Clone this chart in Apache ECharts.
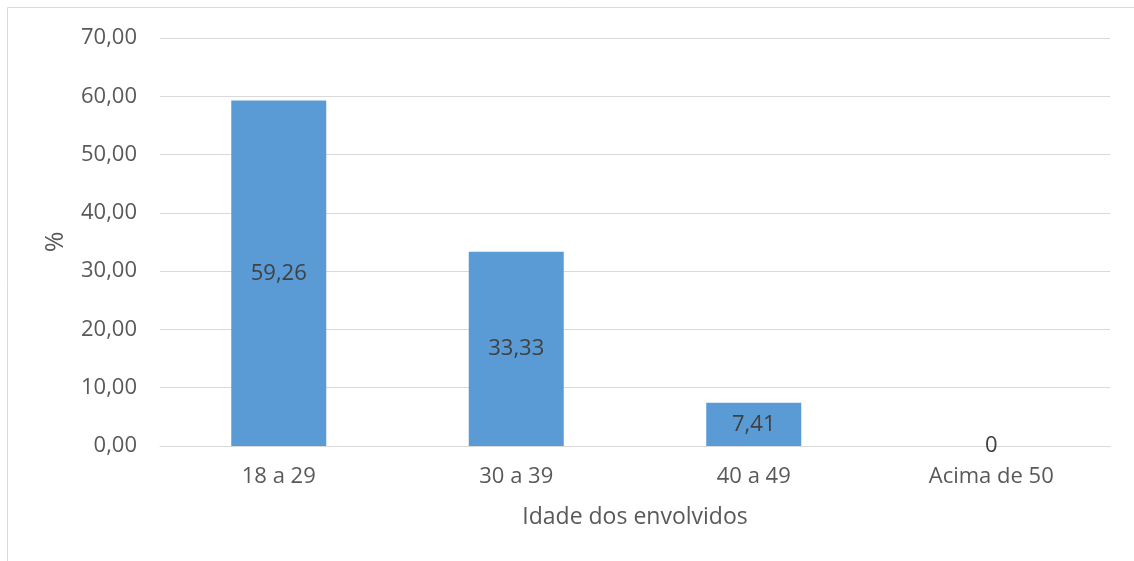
<!DOCTYPE html>
<html><head><meta charset="utf-8">
<script src="https://cdn.jsdelivr.net/npm/echarts@6/dist/echarts.min.js"></script>
<style>html,body{margin:0;padding:0;background:#fff}#c{width:1134px;height:561px}</style>
</head><body><div id="c"></div>
<script>
const categories = ['18 a 29', '30 a 39', '40 a 49', 'Acima de 50'];
const values = [59.26, 33.33, 7.41, 0];
const valueLabels = ['59,26', '33,33', '7,41', '0'];
const yTicks = [0, 10, 20, 30, 40, 50, 60, 70];

const chart = echarts.init(document.getElementById('c'));
const font = '"Open Sans", "Noto Sans", sans-serif';
chart.setOption({
  animation: false,
  textStyle: { fontFamily: font },
  graphic: [{ type: 'rect', shape: { x: 7.5, y: 7.5, width: 1200, height: 700 }, style: { fill: 'none', stroke: '#d9d9d9', lineWidth: 1 } }],
  grid: { left: 160, right: 24, top: 38, bottom: 115, containLabel: false },
  xAxis: {
    type: 'category', data: categories,
    name: 'Idade dos envolvidos', nameLocation: 'middle', nameGap: 60,
    nameTextStyle: { color: '#595959', fontSize: 23, fontFamily: font },
    axisLine: { show: true, lineStyle: { color: '#d9d9d9' } },
    axisTick: { show: false },
    axisLabel: { color: '#595959', fontSize: 22, margin: 20, fontFamily: font }
  },
  yAxis: {
    type: 'value', min: 0, max: 70, interval: 10,
    name: '%', nameLocation: 'middle', nameGap: 92, nameRotate: 90,
    nameTextStyle: { color: '#595959', fontSize: 25, fontFamily: font },
    axisLine: { show: false }, axisTick: { show: false },
    splitLine: { lineStyle: { color: '#d9d9d9' } },
    axisLabel: { color: '#595959', fontSize: 22, margin: 23, fontFamily: font,
      formatter: v => yTicks.includes(v) ? v.toFixed(2).replace('.', ',') : '' }
  },
  series: [{
    type: 'bar', data: values, barWidth: '40%',
    itemStyle: { color: '#5b9bd5' },
    label: { show: true, position: 'inside', color: '#404040', fontSize: 22, fontFamily: font,
      formatter: p => valueLabels[p.dataIndex] }
  }]
});
</script></body></html>
